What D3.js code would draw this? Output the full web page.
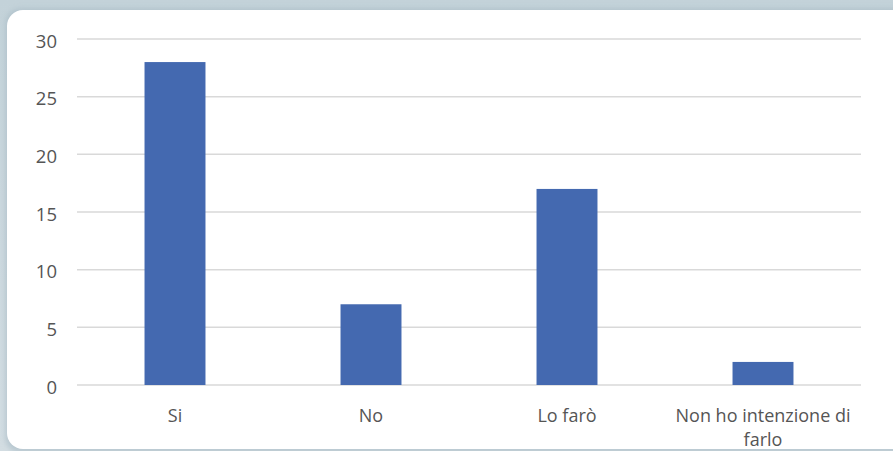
<!DOCTYPE html>
<html><head><meta charset="utf-8">
<script src="https://cdn.jsdelivr.net/npm/d3@7"></script>
<style>html,body{margin:0;padding:0;background:#fff;}svg{display:block;}</style>
</head><body>
<svg id="c" width="893" height="451"></svg>
<script>
const categories = ["Si", "No", "Lo farò", "Non ho intenzione di farlo"];
const values = [28, 7, 17, 2];
const yTicks = [0, 5, 10, 15, 20, 25, 30];

(function(){
const svg = d3.select("#c");
const defs = svg.append("defs");
const g1 = defs.append("linearGradient").attr("id","bg").attr("x1",0).attr("y1",0).attr("x2",0).attr("y2",1);
g1.append("stop").attr("offset","0%").attr("stop-color","#c3d2d9");
g1.append("stop").attr("offset","100%").attr("stop-color","#d3dde2");
const f = defs.append("filter").attr("id","sh").attr("x","-5%").attr("y","-5%").attr("width","110%").attr("height","110%");
f.append("feGaussianBlur").attr("stdDeviation",2.5);

svg.append("rect").attr("width",893).attr("height",451).attr("fill","url(#bg)");
svg.append("rect").attr("x",5).attr("y",8).attr("width",910).attr("height",445).attr("rx",16)
  .attr("fill","#a9bcc6").attr("opacity",0.6).attr("filter","url(#sh)");
svg.append("rect").attr("x",7).attr("y",10).attr("width",906).attr("height",439).attr("rx",16).attr("fill","#ffffff");

const mLeft = 77, mRight = 861, mTop = 39, mBottom = 385;
const x = d3.scaleBand().domain(categories).range([mLeft, mRight]).padding(0);
const y = d3.scaleLinear().domain([0, 30]).range([mBottom, mTop]);

const grid = svg.append("g");
grid.selectAll("line").data(yTicks).join("line")
  .attr("x1", mLeft).attr("x2", mRight)
  .attr("y1", d => y(d)).attr("y2", d => y(d))
  .attr("stroke", "#d9d9d9").attr("stroke-width", 1.5);

const yAxis = d3.axisLeft(y).tickValues(yTicks).tickSize(0).tickPadding(0);
const ya = svg.append("g").attr("transform", `translate(${mLeft-20},0)`).call(yAxis);
ya.select(".domain").remove();
ya.selectAll("text").attr("font-family","'Open Sans', sans-serif").attr("font-size",18.5)
  .attr("fill","#555555").attr("dy","0.45em");

const bw = x.bandwidth() * 0.311;
svg.append("g").selectAll("rect").data(values).join("rect")
  .attr("x", (d,i) => x(categories[i]) + x.bandwidth()/2 - bw/2)
  .attr("width", bw)
  .attr("y", d => y(d))
  .attr("height", d => y(0) - y(d))
  .attr("fill", "#4469b0");

const xl = svg.append("g");
categories.forEach(c => {
  const cx = x(c) + x.bandwidth()/2;
  const lines = c === "Non ho intenzione di farlo" ? ["Non ho intenzione di", "farlo"] : [c];
  lines.forEach((l, i) => xl.append("text").attr("x", cx).attr("y", i ? 446 : 422)
    .attr("text-anchor","middle").attr("font-family","'Open Sans', sans-serif")
    .attr("font-size",18).attr("fill","#555555").text(l));
});
})();
</script>
</body></html>
